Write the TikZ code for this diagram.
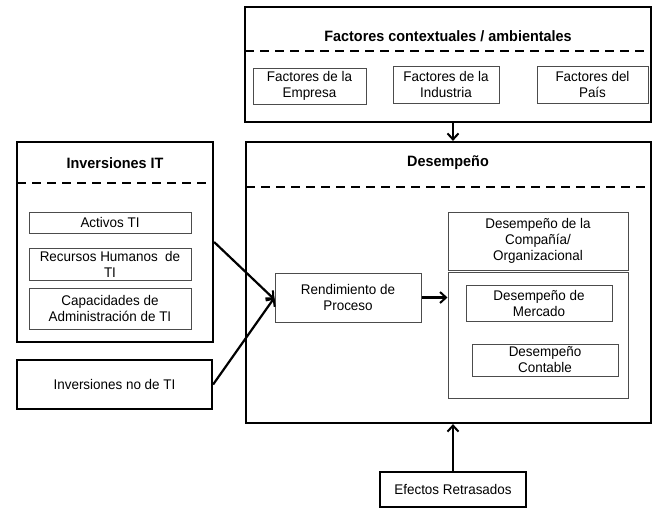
\documentclass[tikz,border=0pt]{standalone}
\usepackage{fontspec}
\setmainfont[FakeStretch=0.96]{Liberation Sans}
\usetikzlibrary{arrows.meta}
\begin{document}
\begin{tikzpicture}[x=1pt,y=-1pt,
  outer/.style={draw=black,line width=2.2pt,minimum width=#1,inner sep=0pt},
  inner/.style 2 args={draw=black!70,line width=1pt,minimum width=#1,minimum height=#2,
    inner sep=0pt,align=center,font=\fontsize{14}{16}\selectfont},
  title/.style={font=\bfseries\fontsize{15}{17}\selectfont},
  sep/.style={line width=2.2pt,dash pattern=on 9pt off 6pt},
  flow/.style={line width=2.2pt,-{Straight Barb[length=6pt,width=11pt,line width=2pt]}},
  body/.style={font=\fontsize{14}{16}\selectfont}]
\useasboundingbox (0,0) rectangle (653,512);

% contextual factors
\node[outer=406pt,minimum height=115pt] (ctx) at (448,64.5) {};
\node[title] (ctxT) at (448,36) {Factores contextuales / ambientales};
\draw[sep] (245,51) -- (651,51);
\node[inner={113pt}{36pt}] (emp) at (309.5,86) {Factores de la\\Empresa};
\node[inner={106pt}{37pt}] (ind) at (446,84.5) {Factores de la\\Industria};
\node[inner={111pt}{37pt}] (pais) at (592.5,84.5) {Factores del\\País};

% performance
\node[outer=405pt,minimum height=281pt] (des) at (448.5,282.5) {};
\node[title] (desT) at (448,163) {Desempeño};
\draw[sep] (246,187) -- (651,187);
\node[inner={146pt}{49pt}] (rend) at (348,297.5) {Rendimiento de\\Proceso};
\node[inner={180pt}{58pt}] (comp) at (538,241) {Desempeño de la\\Compañía/\\Organizacional};
\node[inner={180pt}{126pt}] (sub) at (538,335) {};
\node[inner={146pt}{36pt}] (merc) at (539,303) {Desempeño de\\Mercado};
\node[inner={146pt}{32pt}] (cont) at (545,360) {Desempeño\\Contable};

% IT investments
\node[outer=196pt,minimum height=200pt] (inv) at (115,242) {};
\node[title] (invT) at (115,163) {Inversiones IT};
\draw[sep] (17,183) -- (213,183);
\node[inner={162pt}{21pt}] (act) at (110,222.5) {Activos TI};
\node[inner={162pt}{32pt}] (rec) at (110,264) {Recursos Humanos \ de\\TI};
\node[inner={162pt}{41pt}] (cap) at (110,308.5) {Capacidades de\\Administración de TI};

\node[outer=195pt,minimum height=49pt,body] (nonit) at (114.5,384.5) {Inversiones no de TI};
\node[outer=146pt,minimum height=35pt,body] (efe) at (453,489.5) {Efectos Retrasados};

% connectors
\draw[flow] ([xshift=5pt]ctx.south) -- ([xshift=5pt]ctx.south |- des.north);
\draw[flow] (efe.north) -- (efe.north |- des.south);
\draw[flow] (rend.east) -- (rend.east -| sub.west);
\draw[flow] (inv.east) -- ([yshift=-2pt]rend.west);
\draw[flow] (nonit.east) -- (rend.west);
\end{tikzpicture}
\end{document}
